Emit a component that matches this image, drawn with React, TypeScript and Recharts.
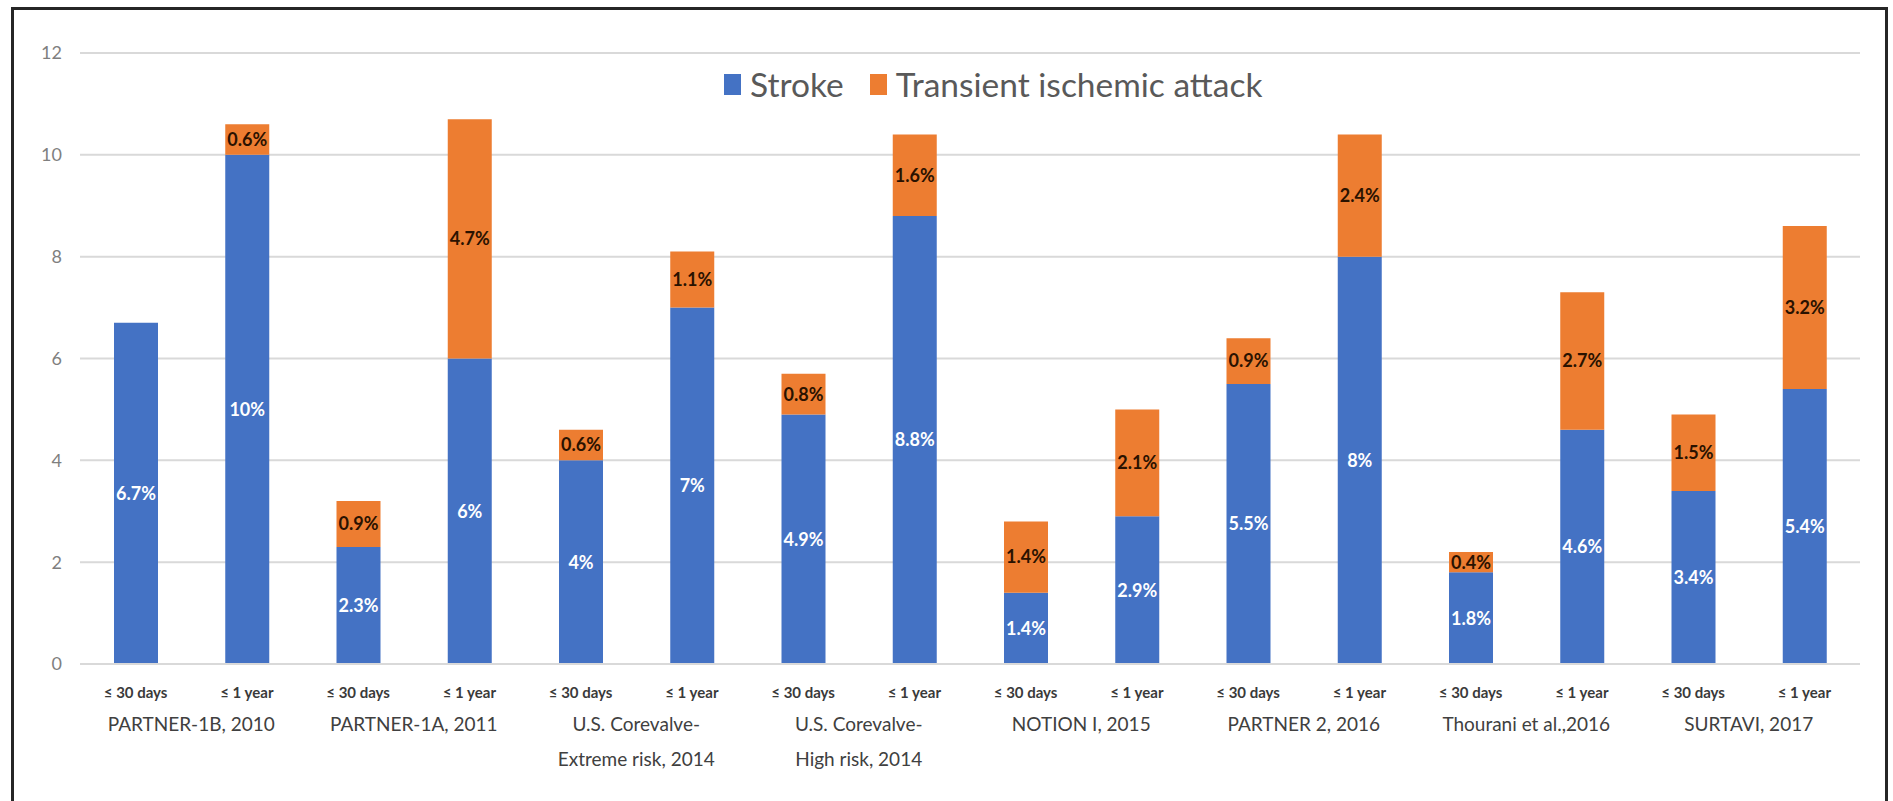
import React from "react";
import { BarChart, Bar, XAxis, YAxis, CartesianGrid, Legend, LabelList } from "recharts";

// one entry per trial, two bars (30 days / 1 year) per trial
const trials = [
  "PARTNER-1B, 2010",
  "PARTNER-1A, 2011",
  "U.S. Corevalve-\nExtreme risk, 2014",
  "U.S. Corevalve-\nHigh risk, 2014",
  "NOTION I, 2015",
  "PARTNER 2, 2016",
  "Thourani et al.,2016",
  "SURTAVI, 2017",
];
const periods = ["≤ 30 days", "≤ 1 year"];

const strokeRates = [6.7, 10, 2.3, 6, 4, 7, 4.9, 8.8, 1.4, 2.9, 5.5, 8, 1.8, 4.6, 3.4, 5.4];
const tiaRates = [0, 0.6, 0.9, 4.7, 0.6, 1.1, 0.8, 1.6, 1.4, 2.1, 0.9, 2.4, 0.4, 2.7, 1.5, 3.2];

const yTicks = [0, 2, 4, 6, 8, 10, 12];

const FONT = "Lato, 'Open Sans', sans-serif";
const BLUE = "#4472C4";
const ORANGE = "#ED7D31";
const GRID = "#d9d9d9";

const rows = strokeRates.map((s, i) => ({
  id: String(i),
  period: periods[i % 2],
  trial: trials[Math.floor(i / 2)],
  stroke: s,
  tia: tiaRates[i],
}));

const pct = (v: any) => (v ? `${v}%` : "");

function PeriodTick(props: any) {
  const { x, y, payload } = props;
  const row = rows[Number(payload.value)];
  return (
    <text
      x={x}
      y={y + 28}
      textAnchor="middle"
      dominantBaseline="central"
      fontFamily={FONT}
      fontSize={15}
      fontWeight={700}
      fill="#3a3a3a"
    >
      {row ? row.period : ""}
    </text>
  );
}

function TrialTick(props: any) {
  const { x, y, payload } = props;
  const lines = String(payload.value).split("\n");
  return (
    <text x={x} y={y} textAnchor="middle" dominantBaseline="central" fontFamily={FONT} fontSize={19} fill="#404040">
      {lines.map((line, i) => (
        <tspan key={i} x={x} dy={i === 0 ? 15 : 35}>
          {line}
        </tspan>
      ))}
    </text>
  );
}

function LegendBox() {
  const item = (color: string, label: string, gap: number) => (
    <div style={{ display: "flex", alignItems: "center", marginRight: gap }}>
      <span style={{ width: 17, height: 21, background: color, marginRight: 9, display: "inline-block" }} />
      <span>{label}</span>
    </div>
  );
  return (
    <div style={{ display: "flex", alignItems: "center", fontFamily: FONT, fontSize: 33.5, color: "#595959", whiteSpace: "nowrap" }}>
      {item(BLUE, "Stroke", 26)}
      {item(ORANGE, "Transient ischemic attack", 0)}
    </div>
  );
}

export default function App() {
  return (
    <div style={{ position: "fixed", left: 0, top: 0, width: 1893, height: 801, overflow: "hidden", background: "#fff" }}>
      <BarChart width={1893} height={801} data={rows} margin={{ top: 53, right: 33, bottom: 13, left: 20 }}>
        <CartesianGrid vertical={false} stroke={GRID} strokeWidth={2} />
        <XAxis
          dataKey="id"
          interval={0}
          height={44}
          tickLine={false}
          tickSize={0}
          tickMargin={0}
          axisLine={{ stroke: GRID, strokeWidth: 2 }}
          tick={(p: any) => <PeriodTick {...p} />}
        />
        <XAxis
          xAxisId="trial"
          dataKey="trial"
          allowDuplicatedCategory={false}
          interval={0}
          height={80}
          axisLine={false}
          tickLine={false}
          tickSize={0}
          tickMargin={0}
          tick={(p: any) => <TrialTick {...p} />}
        />
        <YAxis
          domain={[0, 12]}
          ticks={yTicks}
          width={60}
          axisLine={false}
          tickLine={false}
          tickSize={0}
          tickMargin={18}
          tick={{ fill: "#7f7f7f", fontSize: 18, fontFamily: FONT }}
        />
        <Legend
          verticalAlign="middle"
          layout="horizontal"
          wrapperStyle={{ top: 64, left: 724, width: "auto" }}
          content={() => <LegendBox />}
        />
        <Bar dataKey="stroke" name="Stroke" stackId="a" fill={BLUE} barSize={44} isAnimationActive={false}>
          <LabelList
            dataKey="stroke"
            position="center"
            formatter={pct}
            fill="#ffffff"
            fontSize={18}
            fontWeight={700}
            fontFamily={FONT}
          />
        </Bar>
        <Bar dataKey="tia" name="Transient ischemic attack" stackId="a" fill={ORANGE} barSize={44} isAnimationActive={false}>
          <LabelList
            dataKey="tia"
            position="center"
            formatter={pct}
            fill="#2a1200"
            fontSize={18}
            fontWeight={700}
            fontFamily={FONT}
          />
        </Bar>
      </BarChart>
      <div
        style={{
          position: "absolute",
          left: 11,
          top: 7,
          width: 1871,
          height: 820,
          border: "3px solid #262626",
          pointerEvents: "none",
        }}
      />
    </div>
  );
}
